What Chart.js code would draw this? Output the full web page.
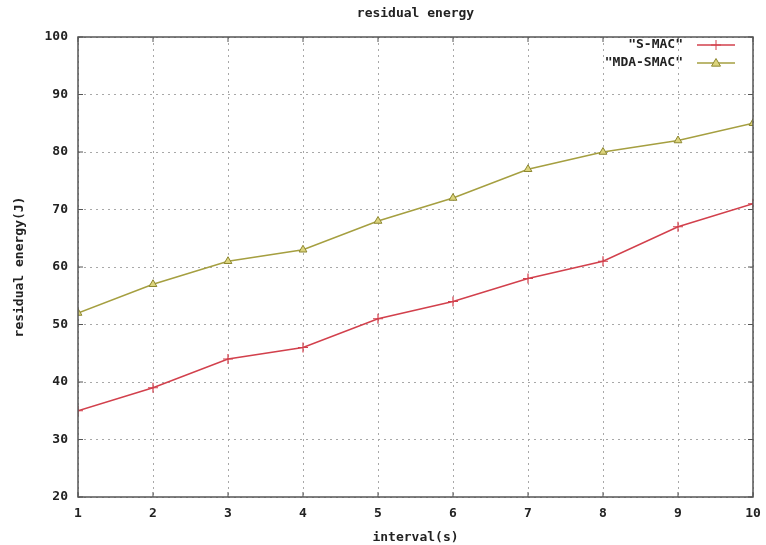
<!DOCTYPE html>
<html>
<head>
<meta charset="utf-8">
<script src="https://cdn.jsdelivr.net/npm/chart.js@4.4.1/dist/chart.umd.min.js"></script>
<style>
html,body{margin:0;padding:0;background:#fff;}
#wrap{width:766px;height:545px;}
</style>
</head>
<body>
<div id="wrap"><canvas id="c" width="766" height="545"></canvas></div>
<script>
const intervals = [1, 2, 3, 4, 5, 6, 7, 8, 9, 10];
const smac = [35, 39, 44, 46, 51, 54, 58, 61, 67, 71];
const mdaSmac = [52, 57, 61, 63, 68, 72, 77, 80, 82, 85];
const yTicks = [20, 30, 40, 50, 60, 70, 80, 90, 100];
const seriesNames = ['"S-MAC"', '"MDA-SMAC"'];
const chartTitle = 'residual energy';
const xTitle = 'interval(s)';
const yTitle = 'residual energy(J)';

const FONT = 'bold 13px "DejaVu Sans Mono", "Liberation Mono", monospace';
const TICKFONT = { family: '"DejaVu Sans Mono", monospace', size: 13, weight: 'bold' };
const RED = '#d2404c';
const OLIVE = '#a59f40';

const decor = {
  id: 'decor',
  afterDraw(chart) {
    const ctx = chart.ctx, a = chart.chartArea;
    ctx.save();
    // frame
    ctx.strokeStyle = '#555';
    ctx.lineWidth = 1.5;
    ctx.strokeRect(a.left, a.top, a.right - a.left, a.bottom - a.top);
    // tick marks
    ctx.lineWidth = 1;
    const xs = chart.scales.x, ys = chart.scales.y;
    intervals.forEach(v => {
      const px = xs.getPixelForValue(v);
      ctx.beginPath();
      ctx.moveTo(px, a.bottom); ctx.lineTo(px, a.bottom - 5);
      ctx.moveTo(px, a.top); ctx.lineTo(px, a.top + 5);
      ctx.stroke();
    });
    yTicks.forEach(v => {
      const py = ys.getPixelForValue(v);
      ctx.beginPath();
      ctx.moveTo(a.left, py); ctx.lineTo(a.left + 5, py);
      ctx.moveTo(a.right, py); ctx.lineTo(a.right - 5, py);
      ctx.stroke();
    });
    // title
    ctx.fillStyle = '#222';
    ctx.font = FONT;
    ctx.textAlign = 'center';
    ctx.textBaseline = 'middle';
    ctx.fillText(chartTitle, (a.left + a.right) / 2, 14);
    // legend
    const ds = chart.data.datasets;
    ds.forEach((d, i) => {
      const y = 45 + i * 18;
      const cx = 716;
      ctx.fillStyle = '#222';
      ctx.textAlign = 'right';
      ctx.fillText(seriesNames[i], 683, y);
      ctx.strokeStyle = d.borderColor;
      ctx.lineWidth = 1.5;
      ctx.beginPath();
      ctx.moveTo(697, y); ctx.lineTo(735, y);
      ctx.stroke();
      ctx.fillStyle = d.pointBackgroundColor;
      ctx.strokeStyle = d.pointBorderColor;
      ctx.lineWidth = 1;
      ctx.beginPath();
      const r = d.pointRadius;
      if (d.pointStyle === 'triangle') {
        ctx.moveTo(cx, y - r);
        ctx.lineTo(cx + r, y + r * 0.7);
        ctx.lineTo(cx - r, y + r * 0.7);
        ctx.closePath();
        ctx.fill(); ctx.stroke();
      } else {
        ctx.moveTo(cx - r, y); ctx.lineTo(cx + r, y);
        ctx.moveTo(cx, y - r); ctx.lineTo(cx, y + r);
        ctx.stroke();
      }
    });
    ctx.restore();
  }
};

new Chart(document.getElementById('c'), {
  type: 'line',
  data: {
    datasets: [
      {
        label: seriesNames[0],
        data: intervals.map((x, i) => ({ x, y: smac[i] })),
        borderColor: RED, backgroundColor: RED,
        borderWidth: 1.5,
        pointStyle: 'cross', pointRadius: 5,
        pointBorderColor: RED, pointBackgroundColor: RED, pointBorderWidth: 1.2,
        tension: 0
      },
      {
        label: seriesNames[1],
        data: intervals.map((x, i) => ({ x, y: mdaSmac[i] })),
        borderColor: OLIVE, backgroundColor: '#d9d27a',
        borderWidth: 1.5,
        pointStyle: 'triangle', pointRadius: 4.5,
        pointBorderColor: '#8d8730', pointBackgroundColor: '#dcd47c', pointBorderWidth: 1,
        tension: 0
      }
    ]
  },
  options: {
    responsive: false,
    animation: false,
    events: [],
    layout: { padding: { top: 37, right: 13, left: 0, bottom: 0 } },
    plugins: { legend: { display: false }, title: { display: false }, tooltip: { enabled: false } },
    scales: {
      x: {
        type: 'linear', min: 1, max: 10,
        afterBuildTicks(s) { s.ticks = intervals.map(v => ({ value: v })); },
        afterFit(s) { s.height = 48; s.paddingRight = 0; s.paddingLeft = 0; },
        grid: { color: '#a8a8a8', lineWidth: 1, drawTicks: false },
        border: { display: false, dash: [2, 4] },
        ticks: { color: '#222', font: TICKFONT, padding: 9, maxRotation: 0 },
        title: { display: true, text: xTitle, color: '#222', font: TICKFONT, padding: { top: 4, bottom: 0 } }
      },
      y: {
        min: 20, max: 100,
        afterBuildTicks(s) { s.ticks = yTicks.map(v => ({ value: v })); },
        afterFit(s) { s.width = 78; s.paddingTop = 0; s.paddingBottom = 0; },
        grid: { color: '#a8a8a8', lineWidth: 1, drawTicks: false },
        border: { display: false, dash: [2, 4] },
        ticks: { color: '#222', font: TICKFONT, padding: 10 },
        title: { display: true, text: yTitle, color: '#222', font: TICKFONT, padding: { top: 12, bottom: 4 } }
      }
    }
  },
  plugins: [decor]
});
</script>
</body>
</html>
